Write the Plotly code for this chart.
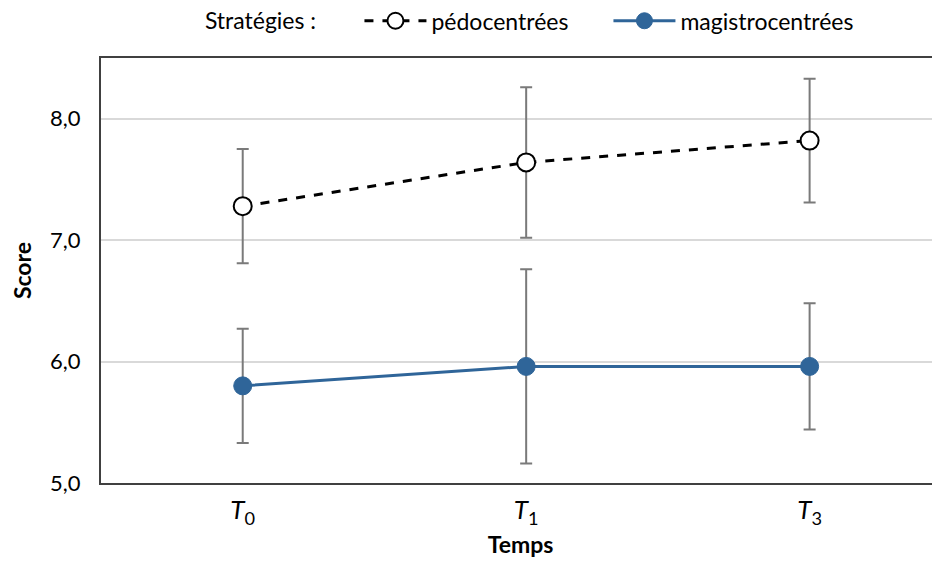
import plotly.graph_objects as go

categories = ["<i>T</i><sub>0</sub>", "<i>T</i><sub>1</sub>", "<i>T</i><sub>3</sub>"]
x_pos = [0, 1, 2]

pedo_mean = [7.28, 7.64, 7.82]
pedo_upper = [7.75, 8.26, 8.33]
pedo_lower = [6.81, 7.02, 7.31]

magi_mean = [5.80, 5.96, 5.96]
magi_upper = [6.27, 6.76, 6.48]
magi_lower = [5.33, 5.16, 5.44]

font_family = "Lato, 'Open Sans', sans-serif"
err_color = "#7a7a7a"
blue = "#2f6599"

def errs(mean, up, lo):
    return [u - m for u, m in zip(up, mean)], [m - l for m, l in zip(mean, lo)]

pu, pl = errs(pedo_mean, pedo_upper, pedo_lower)
mu, ml = errs(magi_mean, magi_upper, magi_lower)

fig = go.Figure()
fig.add_trace(go.Scatter(
    x=x_pos, y=pedo_mean, name="pédocentrées", mode="lines+markers",
    line=dict(color="black", width=3, dash="dash"),
    marker=dict(size=18, color="white", line=dict(color="black", width=2)),
    error_y=dict(type="data", array=pu, arrayminus=pl, color=err_color, thickness=2, width=6),
))
fig.add_trace(go.Scatter(
    x=x_pos, y=magi_mean, name="magistrocentrées", mode="lines+markers",
    line=dict(color=blue, width=3),
    marker=dict(size=18, color=blue, line=dict(color=blue, width=1)),
    error_y=dict(type="data", array=mu, arrayminus=ml, color=err_color, thickness=2, width=6),
))

fig.update_layout(
    width=932, height=557,
    margin=dict(l=93, r=0, t=50, b=82, autoexpand=False),
    paper_bgcolor="white", plot_bgcolor="white",
    font=dict(family=font_family, size=22, color="black"),
    separators=", ",
    showlegend=True,
    legend=dict(
        orientation="h", x=0.5605, xanchor="center", xref="container",
        y=0.977, yanchor="middle", yref="container",
        title=dict(text="Stratégies :" + "\u00a0" * 6, font=dict(size=23)),
        font=dict(size=23), traceorder="normal",
        itemwidth=62, entrywidth=172, entrywidthmode="pixels",
    ),
    xaxis=dict(
        tickmode="array", tickvals=x_pos, ticktext=categories,
        range=[-0.5, 2.46], showgrid=False, zeroline=False,
        showline=True, mirror=True, linecolor="#404040", linewidth=2,
        ticks="", tickfont=dict(size=26), ticklabelstandoff=3,
        title=dict(text="<b>Temps</b>", font=dict(size=23), standoff=9),
    ),
    yaxis=dict(
        range=[5, 8.5], tickvals=[5, 6, 7, 8], tickformat=".1f",
        showgrid=True, gridcolor="#d9d9d9", gridwidth=2, zeroline=False,
        showline=True, linecolor="#404040", linewidth=2, ticks="",
        tickfont=dict(size=22), ticklabelstandoff=14,
        title=dict(text="<b>Score</b>", font=dict(size=23), standoff=14),
    ),
)

fig.write_html("out.html")
